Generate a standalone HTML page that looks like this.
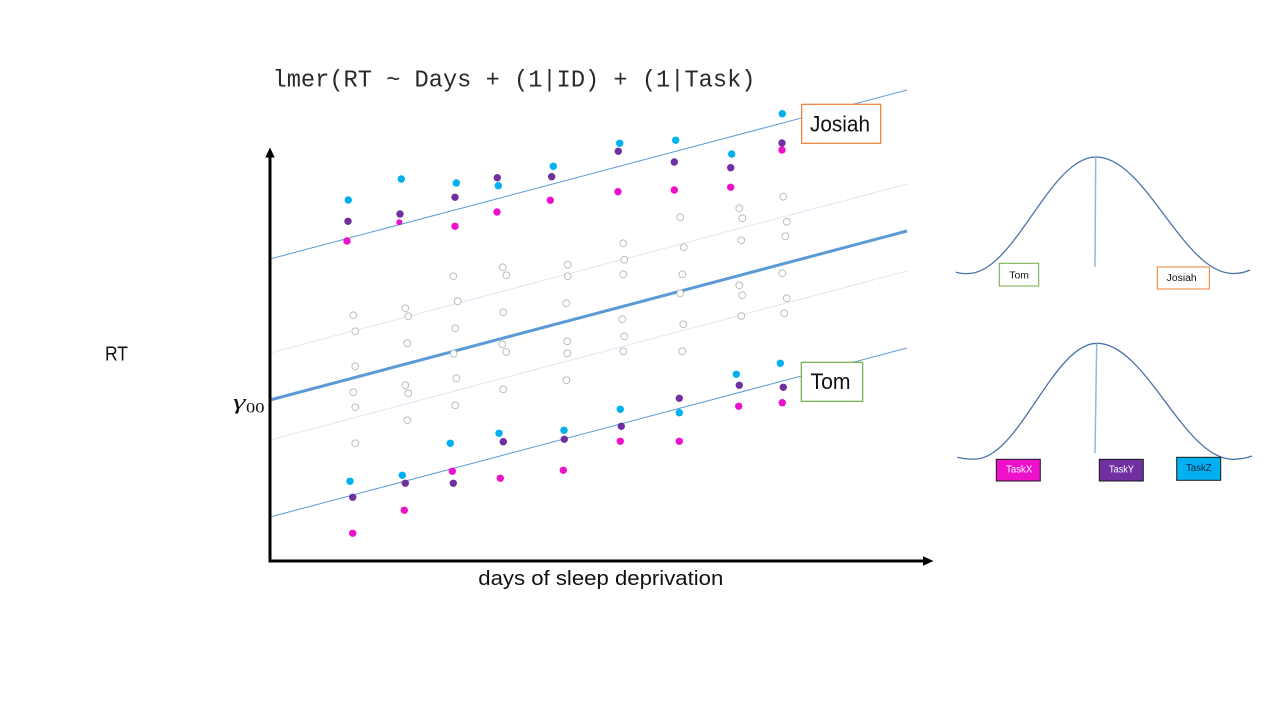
<!DOCTYPE html>
<html>
<head>
<meta charset="utf-8">
<style>
  html, body { margin: 0; padding: 0; background: #ffffff; }
  body { width: 1280px; height: 720px; overflow: hidden; }
  svg { display: block; }
  .sans { font-family: "Liberation Sans", "DejaVu Sans", sans-serif; }
</style>
</head>
<body>
<svg width="1280" height="720" viewBox="0 0 1280 720" xmlns="http://www.w3.org/2000/svg">
  <rect width="1280" height="720" fill="#ffffff"/>

  <text x="272.5" y="86.5" font-family="Liberation Mono, Courier New, monospace" font-size="24" fill="#2a2a2a" textLength="483" lengthAdjust="spacingAndGlyphs">lmer(RT ~ Days + (1|ID) + (1|Task)</text>

  <line x1="270" y1="353" x2="907" y2="184" stroke="#dfe9f5" stroke-width="1.1"/>
  <line x1="270" y1="440" x2="907" y2="271" stroke="#dfe9f5" stroke-width="1.1"/>
  <line x1="270" y1="259" x2="907" y2="90" stroke="#5b9bd5" stroke-width="1"/>
  <line x1="270" y1="517" x2="907" y2="348" stroke="#5b9bd5" stroke-width="1"/>
  <line x1="270" y1="400" x2="907" y2="231" stroke="#5b9bd5" stroke-width="3"/>

  <g fill="#ffffff" stroke="#bdbdbd" stroke-width="1">
    <circle cx="453.3" cy="276.3" r="3.4"/>
    <circle cx="502.7" cy="267.3" r="3.4"/>
    <circle cx="506.3" cy="275.3" r="3.4"/>
    <circle cx="567.7" cy="264.7" r="3.4"/>
    <circle cx="567.7" cy="276.3" r="3.4"/>
    <circle cx="353.3" cy="315.3" r="3.4"/>
    <circle cx="355.3" cy="331.3" r="3.4"/>
    <circle cx="405.3" cy="308.3" r="3.4"/>
    <circle cx="408.3" cy="316.3" r="3.4"/>
    <circle cx="457.7" cy="301.3" r="3.4"/>
    <circle cx="503.3" cy="312.3" r="3.4"/>
    <circle cx="566.3" cy="303.3" r="3.4"/>
    <circle cx="455.3" cy="328.3" r="3.4"/>
    <circle cx="407.3" cy="343.3" r="3.4"/>
    <circle cx="502.3" cy="344.3" r="3.4"/>
    <circle cx="506.3" cy="352" r="3.4"/>
    <circle cx="567.3" cy="341.3" r="3.4"/>
    <circle cx="567.3" cy="353.3" r="3.4"/>
    <circle cx="453.7" cy="353.7" r="3.4"/>
    <circle cx="355.3" cy="366.3" r="3.4"/>
    <circle cx="456.3" cy="378.3" r="3.4"/>
    <circle cx="566.3" cy="380.3" r="3.4"/>
    <circle cx="353.3" cy="392.3" r="3.4"/>
    <circle cx="405.3" cy="385.3" r="3.4"/>
    <circle cx="408.3" cy="393.3" r="3.4"/>
    <circle cx="503.3" cy="389.3" r="3.4"/>
    <circle cx="355.3" cy="407.3" r="3.4"/>
    <circle cx="455.3" cy="405.3" r="3.4"/>
    <circle cx="407.3" cy="420.3" r="3.4"/>
    <circle cx="355.3" cy="443.3" r="3.4"/>
    <circle cx="783.3" cy="196.7" r="3.4"/>
    <circle cx="739.3" cy="208.3" r="3.4"/>
    <circle cx="680.3" cy="217.3" r="3.4"/>
    <circle cx="742.3" cy="218.3" r="3.4"/>
    <circle cx="786.7" cy="221.7" r="3.4"/>
    <circle cx="623.3" cy="243.3" r="3.4"/>
    <circle cx="683.7" cy="247.3" r="3.4"/>
    <circle cx="741.3" cy="240.3" r="3.4"/>
    <circle cx="785.3" cy="236.3" r="3.4"/>
    <circle cx="624.3" cy="259.7" r="3.4"/>
    <circle cx="623.3" cy="274.3" r="3.4"/>
    <circle cx="682.3" cy="274.3" r="3.4"/>
    <circle cx="782.3" cy="273.3" r="3.4"/>
    <circle cx="739.3" cy="285.3" r="3.4"/>
    <circle cx="680.3" cy="293.3" r="3.4"/>
    <circle cx="742.3" cy="295.3" r="3.4"/>
    <circle cx="786.7" cy="298.3" r="3.4"/>
    <circle cx="622.3" cy="319.3" r="3.4"/>
    <circle cx="683.3" cy="324.3" r="3.4"/>
    <circle cx="741.3" cy="316" r="3.4"/>
    <circle cx="784.3" cy="313.3" r="3.4"/>
    <circle cx="624.3" cy="336.3" r="3.4"/>
    <circle cx="623.3" cy="351.3" r="3.4"/>
    <circle cx="682.3" cy="351.3" r="3.4"/>
  </g>

  <g>
    <circle cx="348.3" cy="200" r="3.7" fill="#00b0f0"/>
    <circle cx="348" cy="221.3" r="3.7" fill="#7030a0"/>
    <circle cx="347" cy="241" r="3.7" fill="#ee11cc"/>
    <circle cx="401.3" cy="179" r="3.7" fill="#00b0f0"/>
    <circle cx="400" cy="214" r="3.7" fill="#7030a0"/>
    <circle cx="399.3" cy="222.3" r="3" fill="#ee11cc"/>
    <circle cx="456.3" cy="183" r="3.7" fill="#00b0f0"/>
    <circle cx="455" cy="197.3" r="3.7" fill="#7030a0"/>
    <circle cx="455" cy="226.3" r="3.7" fill="#ee11cc"/>
    <circle cx="497.3" cy="177.7" r="3.7" fill="#7030a0"/>
    <circle cx="498.3" cy="185.7" r="3.7" fill="#00b0f0"/>
    <circle cx="497" cy="212" r="3.7" fill="#ee11cc"/>
    <circle cx="553.3" cy="166.3" r="3.7" fill="#00b0f0"/>
    <circle cx="551.7" cy="176.7" r="3.7" fill="#7030a0"/>
    <circle cx="550.3" cy="200.3" r="3.7" fill="#ee11cc"/>
    <circle cx="619.7" cy="143.3" r="3.7" fill="#00b0f0"/>
    <circle cx="618.3" cy="151.3" r="3.7" fill="#7030a0"/>
    <circle cx="618" cy="191.7" r="3.7" fill="#ee11cc"/>
    <circle cx="675.7" cy="140.3" r="3.7" fill="#00b0f0"/>
    <circle cx="674.3" cy="162" r="3.7" fill="#7030a0"/>
    <circle cx="674.3" cy="190" r="3.7" fill="#ee11cc"/>
    <circle cx="731.7" cy="154" r="3.7" fill="#00b0f0"/>
    <circle cx="730.7" cy="167.7" r="3.7" fill="#7030a0"/>
    <circle cx="730.7" cy="187.3" r="3.7" fill="#ee11cc"/>
    <circle cx="782.3" cy="113.7" r="3.7" fill="#00b0f0"/>
    <circle cx="782" cy="143" r="3.7" fill="#7030a0"/>
    <circle cx="782" cy="150" r="3.7" fill="#ee11cc"/>
  </g>

  <g>
    <circle cx="350" cy="481.3" r="3.7" fill="#00b0f0"/>
    <circle cx="352.7" cy="497.3" r="3.7" fill="#7030a0"/>
    <circle cx="352.7" cy="533.3" r="3.7" fill="#ee11cc"/>
    <circle cx="402.3" cy="475.3" r="3.7" fill="#00b0f0"/>
    <circle cx="405.3" cy="483.3" r="3.7" fill="#7030a0"/>
    <circle cx="404.3" cy="510.3" r="3.7" fill="#ee11cc"/>
    <circle cx="450.3" cy="443.3" r="3.7" fill="#00b0f0"/>
    <circle cx="452.3" cy="471.3" r="3.7" fill="#ee11cc"/>
    <circle cx="453.3" cy="483.3" r="3.7" fill="#7030a0"/>
    <circle cx="499" cy="433.3" r="3.7" fill="#00b0f0"/>
    <circle cx="503.3" cy="441.7" r="3.7" fill="#7030a0"/>
    <circle cx="500.3" cy="478.3" r="3.7" fill="#ee11cc"/>
    <circle cx="564" cy="430.3" r="3.7" fill="#00b0f0"/>
    <circle cx="564.3" cy="439.3" r="3.7" fill="#7030a0"/>
    <circle cx="563.3" cy="470.3" r="3.7" fill="#ee11cc"/>
    <circle cx="620.3" cy="409.3" r="3.7" fill="#00b0f0"/>
    <circle cx="621.3" cy="426.3" r="3.7" fill="#7030a0"/>
    <circle cx="620.3" cy="441.3" r="3.7" fill="#ee11cc"/>
    <circle cx="679.3" cy="398.3" r="3.7" fill="#7030a0"/>
    <circle cx="679.3" cy="412.7" r="3.7" fill="#00b0f0"/>
    <circle cx="679.3" cy="441.3" r="3.7" fill="#ee11cc"/>
    <circle cx="736.3" cy="374.3" r="3.7" fill="#00b0f0"/>
    <circle cx="739.3" cy="385.3" r="3.7" fill="#7030a0"/>
    <circle cx="738.7" cy="406.3" r="3.7" fill="#ee11cc"/>
    <circle cx="780.3" cy="363.3" r="3.7" fill="#00b0f0"/>
    <circle cx="783.3" cy="387.3" r="3.7" fill="#7030a0"/>
    <circle cx="782.3" cy="402.7" r="3.7" fill="#ee11cc"/>
  </g>

  <line x1="270" y1="156" x2="270" y2="562.5" stroke="#000" stroke-width="3"/>
  <polygon points="270,147.5 265.3,157.5 274.7,157.5" fill="#000"/>
  <line x1="268.5" y1="561" x2="924" y2="561" stroke="#000" stroke-width="3"/>
  <polygon points="933.5,561 923,556.3 923,565.7" fill="#000"/>

  <rect x="801.7" y="104.3" width="79" height="39" fill="#ffffff" stroke="#ed7d31" stroke-width="1.2"/>
  <text x="810" y="131.5" class="sans" font-size="22" fill="#111" textLength="60" lengthAdjust="spacingAndGlyphs">Josiah</text>
  <rect x="801.3" y="362.3" width="61.4" height="39" fill="#ffffff" stroke="#70ad47" stroke-width="1.2"/>
  <text x="810.5" y="389" class="sans" font-size="22" fill="#111" textLength="40" lengthAdjust="spacingAndGlyphs">Tom</text>

  <text x="105" y="360.7" class="sans" font-size="20" fill="#111" textLength="23" lengthAdjust="spacingAndGlyphs">RT</text>
  <text x="478.3" y="585" class="sans" font-size="20" fill="#111" textLength="245" lengthAdjust="spacingAndGlyphs">days of sleep deprivation</text>
  <text x="233" y="409" font-family="Liberation Serif, DejaVu Serif, serif" font-style="italic" font-size="22" fill="#111" textLength="12.5" lengthAdjust="spacingAndGlyphs">γ</text>
  <text x="246" y="412.7" font-family="Liberation Serif, DejaVu Serif, serif" font-size="15" fill="#111" textLength="18.5" lengthAdjust="spacingAndGlyphs">00</text>

  <path d="M956,272.3 Q962,274 968,273.5 C1014.6,273.5 1049.4,157 1096,157 C1146,157 1183,273.5 1233,273.5 Q1243,273.5 1250,270" fill="none" stroke="#4a73a6" stroke-width="1.3"/>
  <line x1="1095.7" y1="157" x2="1095" y2="266.7" stroke="#8fb8e0" stroke-width="1.5"/>
  <rect x="999.3" y="263.3" width="39.4" height="22.7" fill="#ffffff" stroke="#70ad47" stroke-width="1"/>
  <text x="1009.3" y="278.3" class="sans" font-size="10" fill="#111" textLength="19.7" lengthAdjust="spacingAndGlyphs">Tom</text>
  <rect x="1157.3" y="267" width="52" height="22" fill="#ffffff" stroke="#ed7d31" stroke-width="1"/>
  <text x="1166.7" y="281" class="sans" font-size="10" fill="#111" textLength="30" lengthAdjust="spacingAndGlyphs">Josiah</text>

  <path d="M957.3,457.3 Q966,459.5 975,459 C1019,459 1053,343.3 1097,343.3 C1146.5,343.3 1183.5,459.3 1233,459.3 Q1243,459.3 1252,456" fill="none" stroke="#4a73a6" stroke-width="1.3"/>
  <line x1="1096.7" y1="343.5" x2="1095" y2="453.3" stroke="#8fb8e0" stroke-width="1.5"/>
  <rect x="996.3" y="459.3" width="44" height="21.7" fill="#ee11cc" stroke="#1a1a1a" stroke-width="1"/>
  <text x="1006" y="472.7" class="sans" font-size="10" fill="#ffffff" textLength="26.3" lengthAdjust="spacingAndGlyphs">TaskX</text>
  <rect x="1099.3" y="459.3" width="44" height="21.7" fill="#7030a0" stroke="#1a1a1a" stroke-width="1"/>
  <text x="1109" y="472.7" class="sans" font-size="10" fill="#ffffff" textLength="25" lengthAdjust="spacingAndGlyphs">TaskY</text>
  <rect x="1176.7" y="457.3" width="44" height="23" fill="#00b0f0" stroke="#1a1a1a" stroke-width="1"/>
  <text x="1186" y="471" class="sans" font-size="10" fill="#10243e" textLength="25.7" lengthAdjust="spacingAndGlyphs">TaskZ</text>
</svg>
</body>
</html>
